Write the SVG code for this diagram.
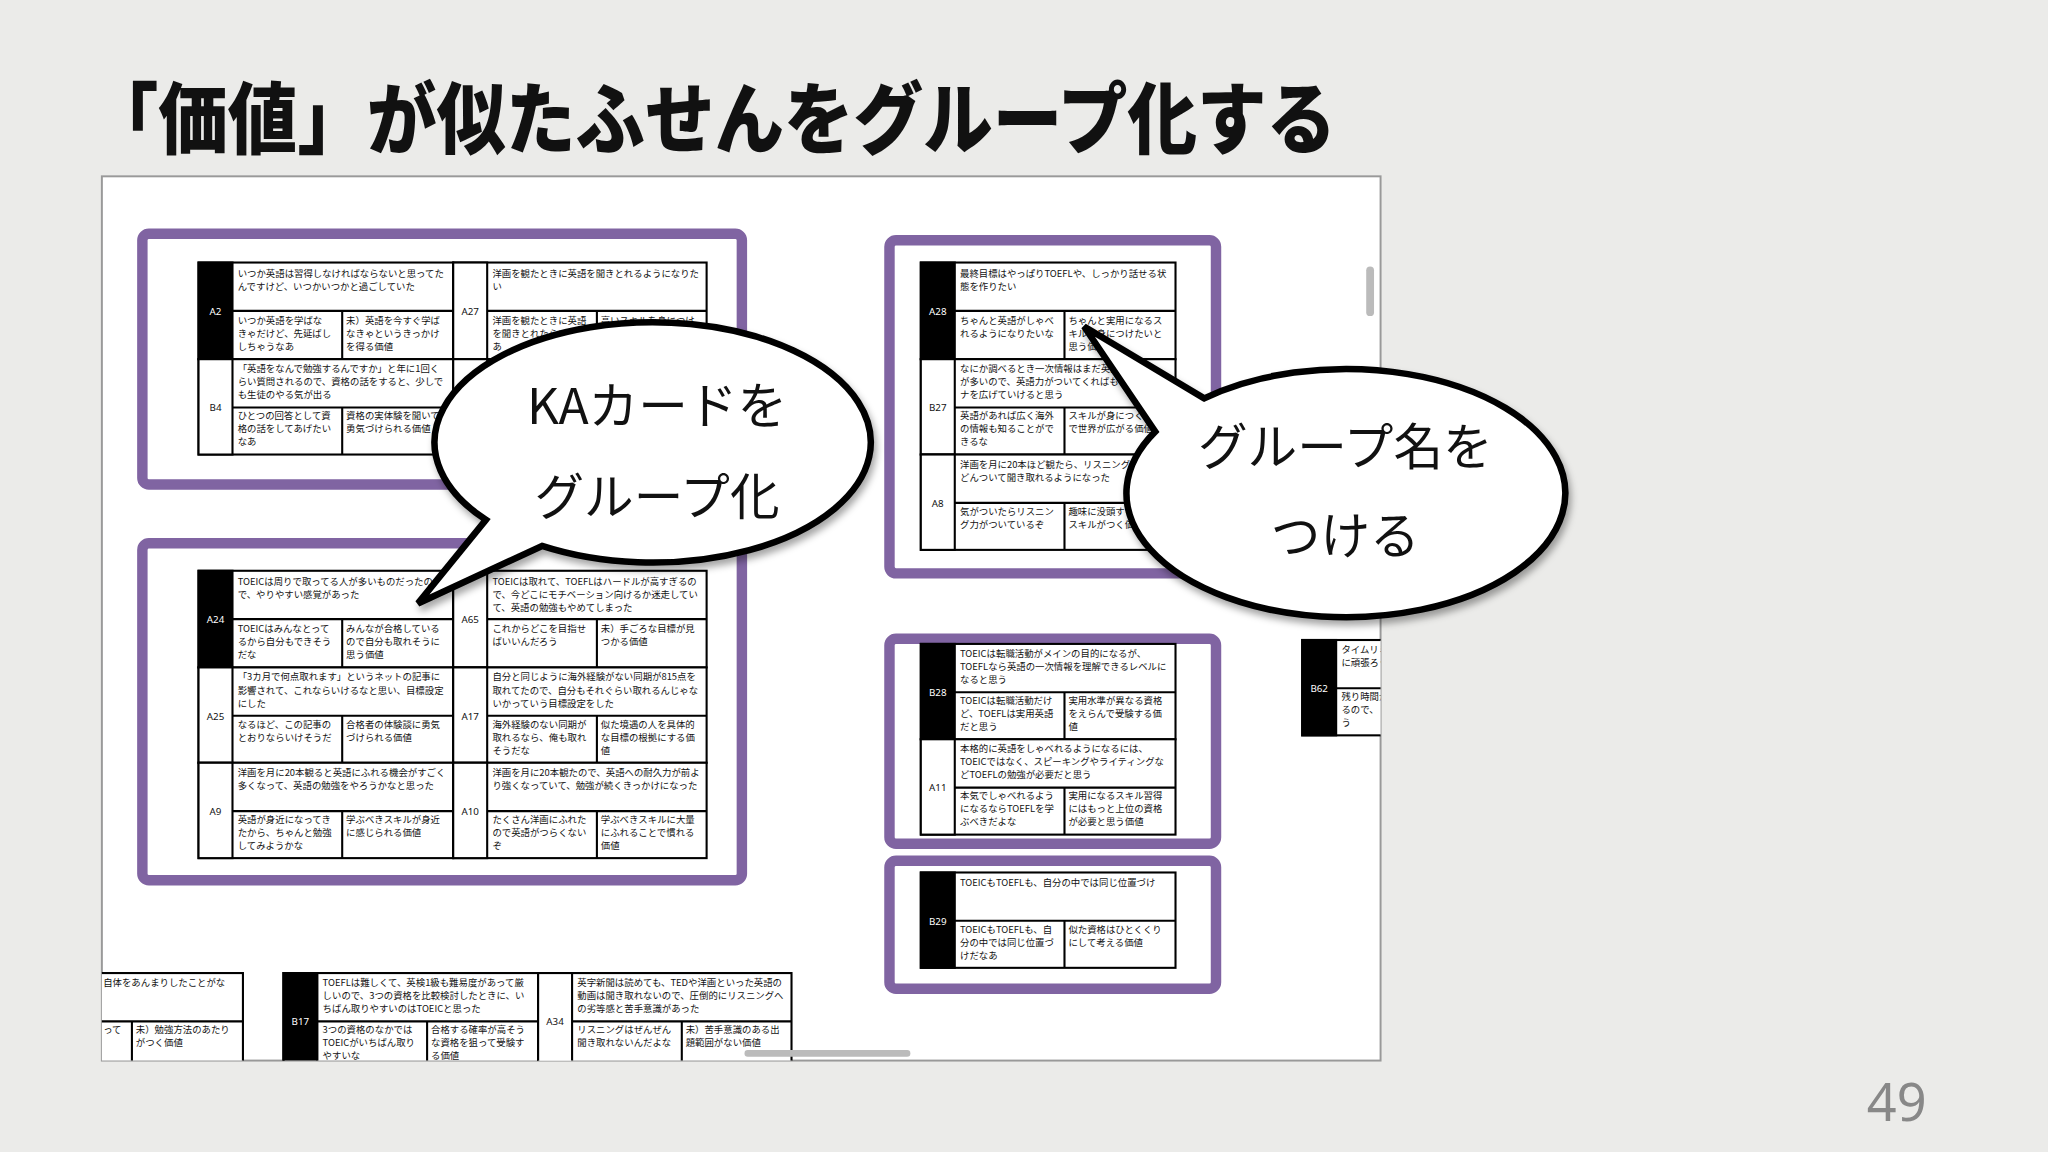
<svg xmlns="http://www.w3.org/2000/svg" width="2048" height="1152" viewBox="0 0 2048 1152">
<defs>
<style>
.c{fill:#fff;stroke:#000;stroke-width:1.6}
.lb{fill:#000;stroke:#000;stroke-width:1.6}
.lw{fill:#fff;stroke:#000;stroke-width:1.6}
.ln{fill:none;stroke:#000;stroke-width:1.6}
.t{font-family:"Noto Sans CJK JP",sans-serif;font-size:7.2px;fill:#111}
.idw{font-family:"Noto Sans",sans-serif;font-size:7.5px;fill:#fff;text-anchor:middle}
.idb{font-family:"Noto Sans",sans-serif;font-size:7.5px;fill:#111;text-anchor:middle}
.grp{fill:none;stroke:#8064a2;stroke-width:8}
.bub{fill:#fff;stroke:#000;stroke-width:5;stroke-linejoin:miter;filter:url(#sh)}
.bt{font-family:"Noto Sans CJK JP",sans-serif;font-size:38px;fill:#111;text-anchor:middle}
</style>
<filter id="sh" x="-20%" y="-20%" width="140%" height="140%"><feDropShadow dx="2" dy="4" stdDeviation="3" flood-color="#000" flood-opacity="0.35"/></filter>
<clipPath id="pc"><rect x="78" y="135" width="979" height="677"/></clipPath>
</defs>
<rect width="2048" height="1152" fill="#ebebe9"/>
<g transform="scale(1.306122)">
<text x="68" y="113" textLength="955" lengthAdjust="spacingAndGlyphs" style="font-family:'Noto Sans CJK JP',sans-serif;font-weight:900;font-size:60px;fill:#111">「価値」が似たふせんをグループ化する</text>
<rect x="78" y="135" width="979" height="677" fill="#fff" stroke="#999" stroke-width="1.5"/>
<text x="1475" y="858" text-anchor="end" style="font-family:'Noto Sans',sans-serif;font-size:40px;fill:#888">49</text>
<g clip-path="url(#pc)">
<g id="groups">
<rect class="grp" x="109" y="179" width="459" height="192" rx="5"/>
<rect class="grp" x="109" y="416" width="459" height="258" rx="5"/>
<rect class="grp" x="681" y="184" width="250" height="255" rx="5"/>
<rect class="grp" x="681" y="489" width="250" height="157" rx="5"/>
<rect class="grp" x="681" y="659" width="250" height="98" rx="5"/>
</g>
<g id="A2" transform="translate(152,201)"><rect class="c" width="195" height="74"/><rect class="lb" width="26" height="74"/><path class="ln" d="M26 37H195M110 37V74"/><text class="idw" x="13" y="40">A2</text>
<text class="t" x="30" y="11">いつか英語は習得しなければならないと思ってた<tspan x="30" dy="10">んですけど、いつかいつかと過ごしていた</tspan></text>
<text class="t" x="30" y="47">いつか英語を学ばな<tspan x="30" dy="10">きゃだけど、先延ばし</tspan><tspan x="30" dy="10">しちゃうなあ</tspan></text>
<text class="t" x="113" y="47">未）英語を今すぐ学ば<tspan x="113" dy="10">なきゃというきっかけ</tspan><tspan x="113" dy="10">を得る価値</tspan></text></g>
<g id="A27" transform="translate(347,201)"><rect class="c" width="194" height="74"/><rect class="lw" width="26" height="74"/><path class="ln" d="M26 37H194M110 37V74"/><text class="idb" x="13" y="40">A27</text>
<text class="t" x="30" y="11">洋画を観たときに英語を聞きとれるようになりた<tspan x="30" dy="10">い</tspan></text>
<text class="t" x="30" y="47">洋画を観たときに英語<tspan x="30" dy="10">を聞きとれたらいいな</tspan><tspan x="30" dy="10">あ</tspan></text>
<text class="t" x="113" y="47">高いスキルを身につけ</text></g>
<g id="B4" transform="translate(152,275)"><rect class="c" width="195" height="73"/><rect class="lw" width="26" height="73"/><path class="ln" d="M26 37H195M110 37V73"/><text class="idb" x="13" y="40">B4</text>
<text class="t" x="30" y="10">「英語をなんで勉強するんですか」と年に1回く<tspan x="30" dy="10">らい質問されるので、資格の話をすると、少しで</tspan><tspan x="30" dy="10">も生徒のやる気が出る</tspan></text>
<text class="t" x="30" y="46">ひとつの回答として資<tspan x="30" dy="10">格の話をしてあげたい</tspan><tspan x="30" dy="10">なあ</tspan></text>
<text class="t" x="113" y="46">資格の実体験を聞いて<tspan x="113" dy="10">勇気づけられる価値</tspan></text></g>
<g id="G1R2" transform="translate(347,275)"><rect class="c" width="194" height="73"/><path class="ln" d="M26 0V73M26 37H194M110 37V73"/></g>
<g id="A24" transform="translate(152,437)"><rect class="c" width="195" height="74"/><rect class="lb" width="26" height="74"/><path class="ln" d="M26 37H195M110 37V74"/><text class="idw" x="13" y="40">A24</text>
<text class="t" x="30" y="11">TOEICは周りで取ってる人が多いものだったの<tspan x="30" dy="10">で、やりやすい感覚があった</tspan></text>
<text class="t" x="30" y="47">TOEICはみんなとって<tspan x="30" dy="10">るから自分もできそう</tspan><tspan x="30" dy="10">だな</tspan></text>
<text class="t" x="113" y="47">みんなが合格している<tspan x="113" dy="10">ので自分も取れそうに</tspan><tspan x="113" dy="10">思う価値</tspan></text></g>
<g id="A65" transform="translate(347,437)"><rect class="c" width="194" height="74"/><rect class="lw" width="26" height="74"/><path class="ln" d="M26 37H194M110 37V74"/><text class="idb" x="13" y="40">A65</text>
<text class="t" x="30" y="11">TOEICは取れて、TOEFLはハードルが高すぎるの<tspan x="30" dy="10">で、今どこにモチベーション向けるか迷走してい</tspan><tspan x="30" dy="10">て、英語の勉強もやめてしまった</tspan></text>
<text class="t" x="30" y="47">これからどこを目指せ<tspan x="30" dy="10">ばいいんだろう</tspan></text>
<text class="t" x="113" y="47">未）手ごろな目標が見<tspan x="113" dy="10">つかる価値</tspan></text></g>
<g id="A25" transform="translate(152,511)"><rect class="c" width="195" height="73"/><rect class="lw" width="26" height="73"/><path class="ln" d="M26 37H195M110 37V73"/><text class="idb" x="13" y="40">A25</text>
<text class="t" x="30" y="10">「3カ月で何点取れます」というネットの記事に<tspan x="30" dy="10">影響されて、これならいけるなと思い、目標設定</tspan><tspan x="30" dy="10">にした</tspan></text>
<text class="t" x="30" y="46">なるほど、この記事の<tspan x="30" dy="10">とおりならいけそうだ</tspan></text>
<text class="t" x="113" y="46">合格者の体験談に勇気<tspan x="113" dy="10">づけられる価値</tspan></text></g>
<g id="A17" transform="translate(347,511)"><rect class="c" width="194" height="73"/><rect class="lw" width="26" height="73"/><path class="ln" d="M26 37H194M110 37V73"/><text class="idb" x="13" y="40">A17</text>
<text class="t" x="30" y="10">自分と同じように海外経験がない同期が815点を<tspan x="30" dy="10">取れてたので、自分もそれぐらい取れるんじゃな</tspan><tspan x="30" dy="10">いかっていう目標設定をした</tspan></text>
<text class="t" x="30" y="46">海外経験のない同期が<tspan x="30" dy="10">取れるなら、俺も取れ</tspan><tspan x="30" dy="10">そうだな</tspan></text>
<text class="t" x="113" y="46">似た境遇の人を具体的<tspan x="113" dy="10">な目標の根拠にする価</tspan><tspan x="113" dy="10">値</tspan></text></g>
<g id="A9" transform="translate(152,584)"><rect class="c" width="195" height="73"/><rect class="lw" width="26" height="73"/><path class="ln" d="M26 37H195M110 37V73"/><text class="idb" x="13" y="40">A9</text>
<text class="t" x="30" y="10">洋画を月に20本観ると英語にふれる機会がすごく<tspan x="30" dy="10">多くなって、英語の勉強をやろうかなと思った</tspan></text>
<text class="t" x="30" y="46">英語が身近になってき<tspan x="30" dy="10">たから、ちゃんと勉強</tspan><tspan x="30" dy="10">してみようかな</tspan></text>
<text class="t" x="113" y="46">学ぶべきスキルが身近<tspan x="113" dy="10">に感じられる価値</tspan></text></g>
<g id="A10" transform="translate(347,584)"><rect class="c" width="194" height="73"/><rect class="lw" width="26" height="73"/><path class="ln" d="M26 37H194M110 37V73"/><text class="idb" x="13" y="40">A10</text>
<text class="t" x="30" y="10">洋画を月に20本観たので、英語への耐久力が前よ<tspan x="30" dy="10">り強くなっていて、勉強が続くきっかけになった</tspan></text>
<text class="t" x="30" y="46">たくさん洋画にふれた<tspan x="30" dy="10">ので英語がつらくない</tspan><tspan x="30" dy="10">ぞ</tspan></text>
<text class="t" x="113" y="46">学ぶべきスキルに大量<tspan x="113" dy="10">にふれることで慣れる</tspan><tspan x="113" dy="10">価値</tspan></text></g>
<g id="A28" transform="translate(705,201)"><rect class="c" width="195" height="74"/><rect class="lb" width="26" height="74"/><path class="ln" d="M26 37H195M110 37V74"/><text class="idw" x="13" y="40">A28</text>
<text class="t" x="30" y="11">最終目標はやっぱりTOEFLや、しっかり話せる状<tspan x="30" dy="10">態を作りたい</tspan></text>
<text class="t" x="30" y="47">ちゃんと英語がしゃべ<tspan x="30" dy="10">れるようになりたいな</tspan></text>
<text class="t" x="113" y="47">ちゃんと実用になるス<tspan x="113" dy="10">キルを身につけたいと</tspan><tspan x="113" dy="10">思う価値</tspan></text></g>
<g id="B27" transform="translate(705,275)"><rect class="c" width="195" height="73"/><rect class="lw" width="26" height="73"/><path class="ln" d="M26 37H195M110 37V73"/><text class="idb" x="13" y="40">B27</text>
<text class="t" x="30" y="10">なにか調べるとき一次情報はまだ英語が<tspan x="30" dy="10">が多いので、英語力がついてくればもっと</tspan><tspan x="30" dy="10">ナを広げていけると思う</tspan></text>
<text class="t" x="30" y="46">英語があれば広く海外<tspan x="30" dy="10">の情報も知ることがで</tspan><tspan x="30" dy="10">きるな</tspan></text>
<text class="t" x="113" y="46">スキルが身につくこと<tspan x="113" dy="10">で世界が広がる価値</tspan></text></g>
<g id="A8" transform="translate(705,348)"><rect class="c" width="195" height="73"/><rect class="lw" width="26" height="73"/><path class="ln" d="M26 37H195M110 37V73"/><text class="idb" x="13" y="40">A8</text>
<text class="t" x="30" y="10">洋画を月に20本ほど観たら、リスニング<tspan x="30" dy="10">どんついて聞き取れるようになった</tspan></text>
<text class="t" x="30" y="46">気がついたらリスニン<tspan x="30" dy="10">グ力がついているぞ</tspan></text>
<text class="t" x="113" y="46">趣味に没頭すると<tspan x="113" dy="10">スキルがつく価値</tspan></text></g>
<g id="B28" transform="translate(705,493)"><rect class="c" width="195" height="73"/><rect class="lb" width="26" height="73"/><path class="ln" d="M26 37H195M110 37V73"/><text class="idw" x="13" y="40">B28</text>
<text class="t" x="30" y="10">TOEICは転職活動がメインの目的になるが、<tspan x="30" dy="10">TOEFLなら英語の一次情報を理解できるレベルに</tspan><tspan x="30" dy="10">なると思う</tspan></text>
<text class="t" x="30" y="46">TOEICは転職活動だけ<tspan x="30" dy="10">ど、TOEFLは実用英語</tspan><tspan x="30" dy="10">だと思う</tspan></text>
<text class="t" x="113" y="46">実用水準が異なる資格<tspan x="113" dy="10">をえらんで受験する価</tspan><tspan x="113" dy="10">値</tspan></text></g>
<g id="A11" transform="translate(705,566)"><rect class="c" width="195" height="73"/><rect class="lw" width="26" height="73"/><path class="ln" d="M26 37H195M110 37V73"/><text class="idb" x="13" y="40">A11</text>
<text class="t" x="30" y="10">本格的に英語をしゃべれるようになるには、<tspan x="30" dy="10">TOEICではなく、スピーキングやライティングな</tspan><tspan x="30" dy="10">どTOEFLの勉強が必要だと思う</tspan></text>
<text class="t" x="30" y="46">本気でしゃべれるよう<tspan x="30" dy="10">になるならTOEFLを学</tspan><tspan x="30" dy="10">ぶべきだよな</tspan></text>
<text class="t" x="113" y="46">実用になるスキル習得<tspan x="113" dy="10">にはもっと上位の資格</tspan><tspan x="113" dy="10">が必要と思う価値</tspan></text></g>
<g id="B29" transform="translate(705,668)"><rect class="c" width="195" height="73"/><rect class="lb" width="26" height="73"/><path class="ln" d="M26 37H195M110 37V73"/><text class="idw" x="13" y="40">B29</text>
<text class="t" x="30" y="10">TOEICもTOEFLも、自分の中では同じ位置づけ</text>
<text class="t" x="30" y="46">TOEICもTOEFLも、自<tspan x="30" dy="10">分の中では同じ位置づ</tspan><tspan x="30" dy="10">けだなあ</tspan></text>
<text class="t" x="113" y="46">似た資格はひとくくり<tspan x="113" dy="10">にして考える価値</tspan></text></g>
<g id="B62" transform="translate(997,490)"><rect class="c" width="195" height="73"/><rect class="lb" width="26" height="73"/><path class="ln" d="M26 37H195M110 37V73"/><text class="idw" x="13" y="40">B62</text>
<text class="t" x="30" y="10">タイムリミットがあるので<tspan x="30" dy="10">に頑張ろう</tspan></text>
<text class="t" x="30" y="46">残り時間が<tspan x="30" dy="10">るので、</tspan><tspan x="30" dy="10">う</tspan></text></g>
<g id="Bleft" transform="translate(-9,745)"><rect class="c" width="195" height="73"/><path class="ln" d="M26 0V73M26 37H195M110 37V73"/>
<text class="t" x="88" y="10">自体をあんまりしたことがな</text>
<text class="t" x="88" y="46">って</text>
<text class="t" x="113" y="46">未）勉強方法のあたり<tspan x="113" dy="10">がつく価値</tspan></text></g>
<g id="B17" transform="translate(217,745)"><rect class="c" width="195" height="73"/><rect class="lb" width="26" height="73"/><path class="ln" d="M26 37H195M110 37V73"/><text class="idw" x="13" y="40">B17</text>
<text class="t" x="30" y="10">TOEFLは難しくて、英検1級も難易度があって厳<tspan x="30" dy="10">しいので、3つの資格を比較検討したときに、い</tspan><tspan x="30" dy="10">ちばん取りやすいのはTOEICと思った</tspan></text>
<text class="t" x="30" y="46">3つの資格のなかでは<tspan x="30" dy="10">TOEICがいちばん取り</tspan><tspan x="30" dy="10">やすいな</tspan></text>
<text class="t" x="113" y="46">合格する確率が高そう<tspan x="113" dy="10">な資格を狙って受験す</tspan><tspan x="113" dy="10">る価値</tspan></text></g>
<g id="A34" transform="translate(412,745)"><rect class="c" width="194" height="73"/><rect class="lw" width="26" height="73"/><path class="ln" d="M26 37H194M110 37V73"/><text class="idb" x="13" y="40">A34</text>
<text class="t" x="30" y="10">英字新聞は読めても、TEDや洋画といった英語の<tspan x="30" dy="10">動画は聞き取れないので、圧倒的にリスニングへ</tspan><tspan x="30" dy="10">の劣等感と苦手意識があった</tspan></text>
<text class="t" x="30" y="46">リスニングはぜんぜん<tspan x="30" dy="10">聞き取れないんだよな</tspan></text>
<text class="t" x="113" y="46">未）苦手意識のある出<tspan x="113" dy="10">題範囲がない価値</tspan></text></g>
</g>
<rect x="570" y="804" width="127" height="5" rx="2.5" fill="#bbb"/>
<rect x="1046" y="204" width="6" height="38" rx="3" fill="#bbb"/>
<g id="connectors"></g>
<g id="bubble1"><path class="bub" d="M372 398 L320 462 L415 418 A167 92 0 1 0 372 398 Z"/>
<text class="bt" x="503" y="325">KAカードを</text><text class="bt" x="503" y="394">グループ化</text></g>
<g id="bubble2"><path class="bub" d="M922 305 L830 250 L884.5 330.5 A168 95 0 1 0 922 305 Z"/>
<text class="bt" x="1030" y="356">グループ名を</text><text class="bt" x="1030" y="424">つける</text></g>
</g>
</svg>
